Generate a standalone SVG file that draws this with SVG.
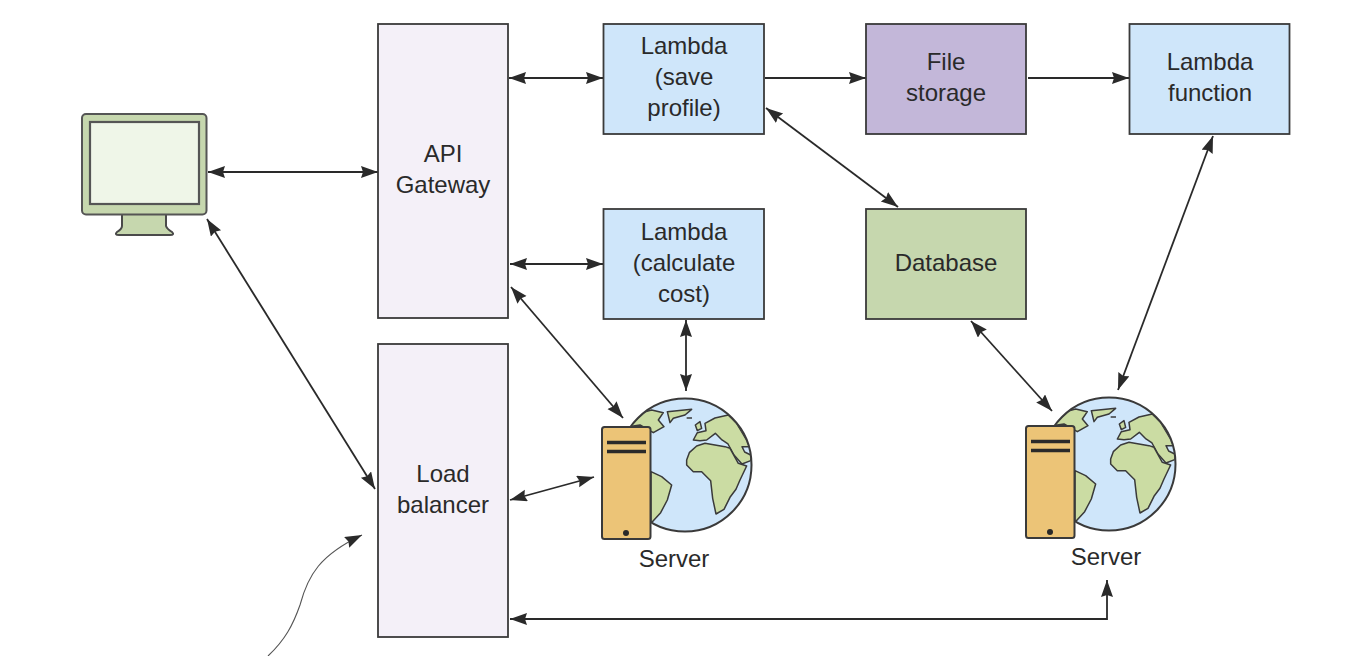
<svg xmlns="http://www.w3.org/2000/svg" width="1348" height="656" viewBox="0 0 1348 656">
<style>
.box{stroke:#3a3a3a;stroke-width:1.8}
.gate{fill:#f4f0f8}.blue{fill:#cfe6fa}.purple{fill:#c3b7d9}.green{fill:#c6d7ae}
text{font-family:"Liberation Sans",Arial,sans-serif;font-size:24px;fill:#2a2a2a;text-anchor:middle}
.c{fill:none;stroke:#2a2a2a;stroke-width:1.800;marker-end:url(#a)}
.b{marker-start:url(#a)}
</style>
<defs>
<marker id="a" markerUnits="userSpaceOnUse" markerWidth="20" markerHeight="14" refX="17" refY="6" orient="auto-start-reverse"><path d="M0 0L17 6L0 12L2 6Z" fill="#2a2a2a"/></marker>
<clipPath id="gc"><circle cx="685" cy="465" r="66"/></clipPath>
<g id="srv">
<circle cx="685" cy="465" r="66.500" fill="#cfe6fa"/>
<g clip-path="url(#gc)"><g transform="translate(590 390) scale(.3333)" fill="#cbdca3" stroke="#3a3a3a" stroke-width="4.500" stroke-linejoin="round">
<path d="M310 150L322 128 348 122 345 100 375 84 415 75 440 100 470 150 478 170 456 170 464 186 484 196 482 212 456 222 432 195 414 162 396 150 376 130 350 150 330 152Z"/>
<path d="M290 210L298 188 320 168 345 160 375 165 405 170 420 175 445 220 470 228 450 270 438 298 420 322 402 358 378 372 368 325 362 272 335 245 310 245 290 225Z"/>
<path d="M232 65L305 58 285 75 250 85 240 98Z"/>
<path d="M115 110L165 65 185 60 220 68 205 90 222 110 190 128 150 105Z"/>
<path d="M183 245L215 260 245 285 232 330 212 368 183 400Z"/>
<path d="M290 84H306" fill="none"/><path d="M316 105L330 95 335 115 322 122Z"/>
</g></g>
<circle cx="685" cy="465" r="66.500" fill="none" stroke="#3a3a3a" stroke-width="2"/>
<rect x="602" y="427" width="48.500" height="112" rx="2.500" fill="#ecc477" stroke="#3a3a3a" stroke-width="2"/>
<path d="M607 442.500H646M607 451.500H646" stroke="#2a2a2a" stroke-width="3.500"/>
<circle cx="626" cy="533" r="3" fill="#2a2a2a"/>
</g>
</defs>
<rect width="1348" height="656" fill="#fff"/>
<g id="connectors">
<path class="c b" d="M208 172H378"/>
<path class="c b" d="M509 78H603"/>
<path class="c" d="M765 78H866"/>
<path class="c" d="M1028 78H1129"/>
<path class="c b" d="M766 108L898 207"/>
<path class="c b" d="M510 264H603"/>
<path class="c b" d="M686 320V391"/>
<path class="c b" d="M511 287L623 418"/>
<path class="c b" d="M207 219L375 489"/>
<path class="c b" d="M510 500L594 477"/>
<path class="c b" d="M971 321L1052 411"/>
<path class="c b" d="M1213 136L1118 390"/>
<path class="c b" d="M510 619H1107V580"/>
<path class="c" style="stroke-width:1.100;stroke:#555" d="M268 656C285 640 293 625 300 605C308 575 320 555 362 535"/>
</g>
<g id="client">
<path d="M122 214V226Q122 229 117 232Q114 235 119 235H170Q175 235 172 232Q167 229 166 226V214Z" fill="#c6d7ae" stroke="#4a4a4a" stroke-width="2"/>
<rect x="82" y="114" width="124.500" height="100.500" rx="4" fill="#c6d7ae" stroke="#555" stroke-width="2"/>
<rect x="90" y="122" width="109" height="82" fill="#eff6e8" stroke="#555" stroke-width="2.200"/>
</g>
<g id="api-gateway"><rect class="box gate" x="378" y="24" width="130" height="294"/><text x="443" y="162">API</text><text x="443" y="193">Gateway</text></g>
<g id="load-balancer"><rect class="box gate" x="378" y="344" width="130" height="293"/><text x="443" y="482">Load</text><text x="443" y="513">balancer</text></g>
<g id="lambda-save"><rect class="box blue" x="603.500" y="24" width="160.500" height="110"/><text x="684" y="54">Lambda</text><text x="684" y="85">(save</text><text x="684" y="116">profile)</text></g>
<g id="file-storage"><rect class="box purple" x="866" y="24" width="160" height="110"/><text x="946" y="70">File</text><text x="946" y="101">storage</text></g>
<g id="lambda-function"><rect class="box blue" x="1129.500" y="24" width="160" height="110"/><text x="1210" y="70">Lambda</text><text x="1210" y="101">function</text></g>
<g id="lambda-calc"><rect class="box blue" x="603.500" y="209" width="160.500" height="110"/><text x="684" y="240">Lambda</text><text x="684" y="271">(calculate</text><text x="684" y="302">cost)</text></g>
<g id="database"><rect class="box green" x="866" y="209" width="160" height="110"/><text x="946" y="271">Database</text></g>
<g id="server-1"><use href="#srv"/><text x="674" y="567">Server</text></g>
<g id="server-2"><use href="#srv" transform="translate(424 -1)"/><text x="1106" y="565">Server</text></g>
</svg>
